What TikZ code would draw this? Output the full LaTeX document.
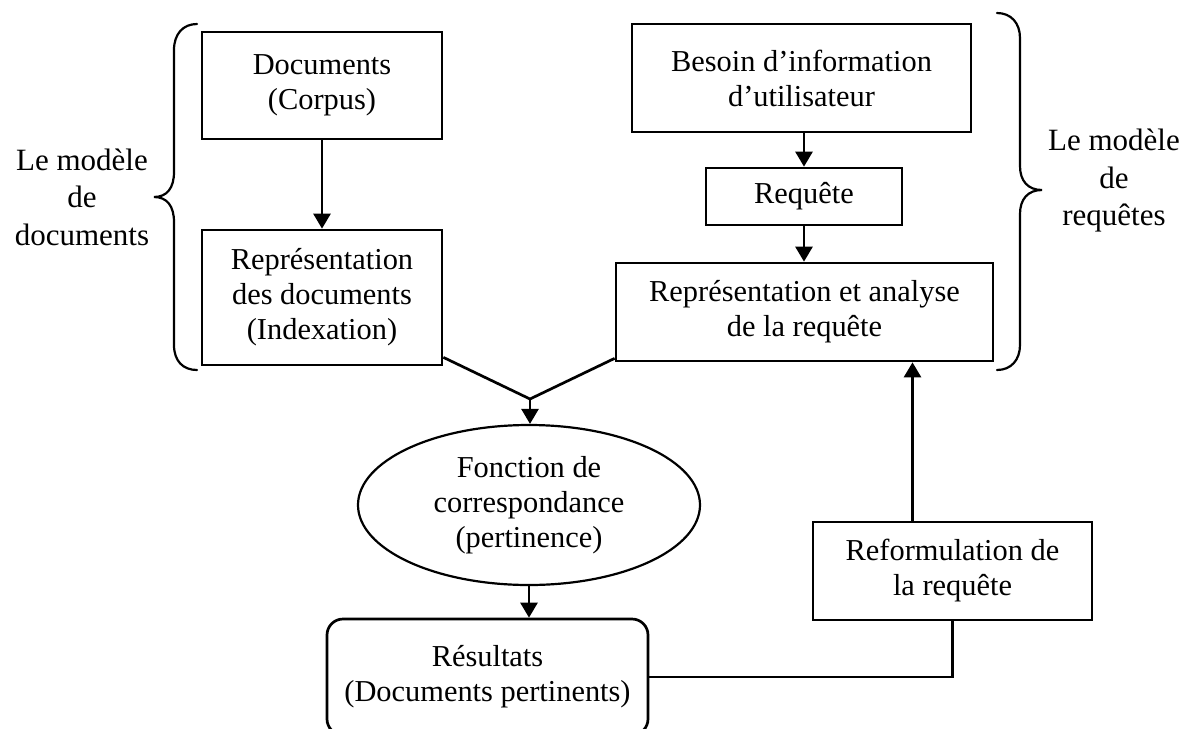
\documentclass[tikz,border=0pt]{standalone}
\usepackage{fontspec}
\setmainfont{Liberation Serif}
\usetikzlibrary{arrows.meta,shapes.geometric,calc}
\begin{document}
\begin{tikzpicture}[x=0.5pt,y=-0.5pt,
  every node/.style={font=\fontsize{15.2}{17.5}\selectfont, align=center, inner sep=0pt},
  box/.style={draw, line width=1.35pt, rectangle},
  conn/.style={line width=1.35pt},
  arr/.style={conn, -{Triangle[width=8.5pt,length=7.5pt]}},
  bracepath/.style={line width=1.1pt, line cap=round},
  sidelabel/.style={font=\fontsize{15.5}{18.75}\selectfont}]
\useasboundingbox (0,0) rectangle (1185,729);

% boxes
\node[box, minimum width=120pt, minimum height=53.5pt] (docs) at (322,85.5) {Documents\\(Corpus)};
\node[box, minimum width=120pt, minimum height=67.5pt] (repdocs) at (322,297.5) {Représentation\\des documents\\(Indexation)};
\node[box, minimum width=169.5pt, minimum height=54pt] (besoin) at (801.5,78) {Besoin d’information\\d’utilisateur};
\node[box, minimum width=98pt, minimum height=28.5pt] (requete) at (804,196.5) {Requête};
\node[box, minimum width=188.5pt, minimum height=49pt] (repreq) at (804.5,312) {Représentation et analyse\\de la requête};
\node[ellipse, draw, line width=1.1pt, minimum width=171pt, minimum height=80pt] (fonc) at (529,505) {Fonction de\\correspondance\\(pertinence)};
\node[box, rounded corners=8pt, minimum width=160.5pt, minimum height=58pt] (res) at (487.5,677) {Résultats\\(Documents pertinents)};
\node[box, minimum width=139.5pt, minimum height=49pt] (reform) at (952.5,571) {Reformulation de\\la requête};

% side labels
\node[sidelabel] (lmd) at (82,197) {Le modèle\\de\\documents};
\node[sidelabel] (lmr) at (1114,181) {Le modèle\\de\\requêtes};

% connectors
\draw[arr] (docs) -- (repdocs);
\draw[arr] (besoin.south -| requete.north) -- (requete.north);
\draw[arr] (requete.south) -- (requete.south |- repreq.north);
\coordinate (m) at (530,399);
\draw[conn] ($(repdocs.south east)+(0,-9)$) -- (m) -- ($(repreq.south west)+(0,-4)$);
\draw[arr] (m) -- (m |- fonc.north);
\draw[arr] (fonc.south) -- (fonc.south |- res.north);
\draw[conn] (res.east) -| (reform.south);
\coordinate (rf) at ($(reform.north)+(-40,0)$);
\draw[arr] (rf) -- (rf |- repreq.south);

% braces
\draw[bracepath] (197,24) .. controls (183,24) and (174,34) .. (174,50) -- (174,172)
  .. controls (174,188) and (167,197) .. (154,197)
  .. controls (167,197) and (174,206) .. (174,222) -- (174,345)
  .. controls (174,361) and (183,370) .. (197,370);
\draw[bracepath] (997,13) .. controls (1011,13) and (1020,23) .. (1020,38) -- (1020,166)
  .. controls (1020,181) and (1028,190) .. (1042,190)
  .. controls (1028,190) and (1020,199) .. (1020,214) -- (1020,345)
  .. controls (1020,360) and (1011,370) .. (997,370);
\end{tikzpicture}
\end{document}
